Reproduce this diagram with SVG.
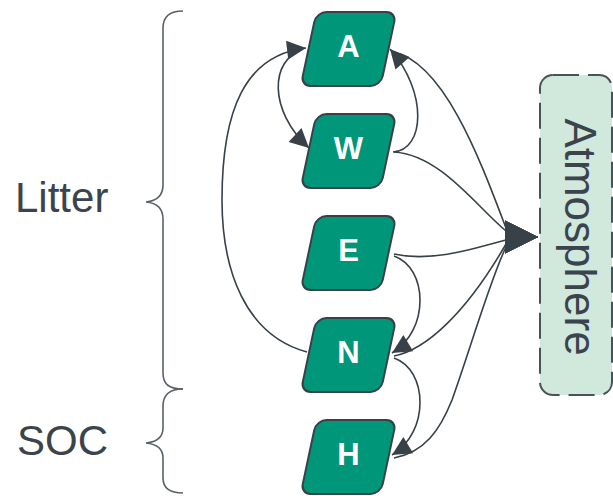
<svg xmlns="http://www.w3.org/2000/svg" width="613" height="496" viewBox="0 0 613 496">
<style>
.node rect{fill:#00967a;stroke:#384048;stroke-width:2}
.node text{fill:#ffffff;font-family:"Liberation Sans",Arial,sans-serif;font-weight:bold;font-size:31px;text-anchor:middle}
.edge{fill:none;stroke:#384048;stroke-width:1.6}
.brace{fill:none;stroke:#5a6169;stroke-width:1.6}
.label{fill:#3b444d;font-family:"Liberation Sans",Arial,sans-serif;font-size:42px}
</style>
<defs>
<marker id="arr" viewBox="0 0 10 10" refX="10" refY="5" markerUnits="userSpaceOnUse" markerWidth="31" markerHeight="19" orient="auto">
<path d="M0,0 L10,5 L0,10 z" fill="#384048"/>
</marker>
<marker id="arrBig" viewBox="0 0 10 10" refX="10" refY="5" markerUnits="userSpaceOnUse" markerWidth="33" markerHeight="38" orient="auto">
<path d="M0,0 L10,5 L0,10 z" fill="#384048"/>
</marker>
</defs>

<g id="braces">
<path class="brace" d="M183 11 C170 11 163 16 163 28 L163 185 C163 196 156 201 146 202 C156 203 163 208 163 219 L163 373 C163 385 170 389 183 389"/>
<path class="brace" d="M183 389 C170 389 163 394 163 406 L163 428 C163 438 156 442 146 443 C156 444 163 448 163 458 L163 478 C163 488 170 493 183 493"/>
<text class="label" x="15" y="212">Litter</text>
<text class="label" x="17" y="455">SOC</text>
</g>

<g id="atmosphere">
<rect x="540" y="75" width="72" height="320" rx="13" fill="#d1e8dd" stroke="#4a5259" stroke-width="2" stroke-dasharray="26 9"/>
<text transform="translate(565,237) rotate(90)" text-anchor="middle" fill="#3b444d" font-family="'Liberation Sans',Arial,sans-serif" font-size="44">Atmosphere</text>
</g>

<g id="connectors">
<path class="edge" marker-end="url(#arr)" d="M307 352 C245 335 222 270 222 200 C222 110 245 55 306 48"/>
<path class="edge" marker-end="url(#arr)" d="M303 49 C270 60 268 110 309 148"/>
<path class="edge" marker-end="url(#arr)" d="M393 152 C425 150 428 92 390 49"/>
<path class="edge" marker-end="url(#arr)" d="M394 256 C428 268 430 330 392 353"/>
<path class="edge" marker-end="url(#arr)" d="M394 358 C428 370 430 432 392 455"/>
<path class="edge" marker-end="url(#arrBig)" d="M393 52 C445 62 482 165 506 228 C517 237 527 237 538 237"/>
<path class="edge" marker-end="url(#arrBig)" d="M394 152 C440 155 475 205 506 231 C517 237 527 237 538 237"/>
<path class="edge" marker-end="url(#arrBig)" d="M394 254 C430 262 470 250 506 240 C517 237 527 237 538 237"/>
<path class="edge" marker-end="url(#arrBig)" d="M394 356 C425 350 465 315 506 244 C517 237 527 237 538 237"/>
<path class="edge" marker-end="url(#arrBig)" d="M394 458 C425 452 440 430 452 400 C470 350 490 280 506 247 C517 237 527 237 538 237"/>
</g>

<g id="node-A" class="node"><rect x="-40" y="-37" width="80" height="74" rx="10" transform="translate(348.5,49) skewX(-12)"/><text x="348.5" y="57">A</text></g>
<g id="node-W" class="node"><rect x="-40" y="-37" width="80" height="74" rx="10" transform="translate(348.5,151) skewX(-12)"/><text x="348.5" y="159">W</text></g>
<g id="node-E" class="node"><rect x="-40" y="-37" width="80" height="74" rx="10" transform="translate(348.5,253) skewX(-12)"/><text x="348.5" y="261">E</text></g>
<g id="node-N" class="node"><rect x="-40" y="-37" width="80" height="74" rx="10" transform="translate(348.5,355) skewX(-12)"/><text x="348.5" y="363">N</text></g>
<g id="node-H" class="node"><rect x="-40" y="-37" width="80" height="74" rx="10" transform="translate(348.5,457) skewX(-12)"/><text x="348.5" y="465">H</text></g>
</svg>
